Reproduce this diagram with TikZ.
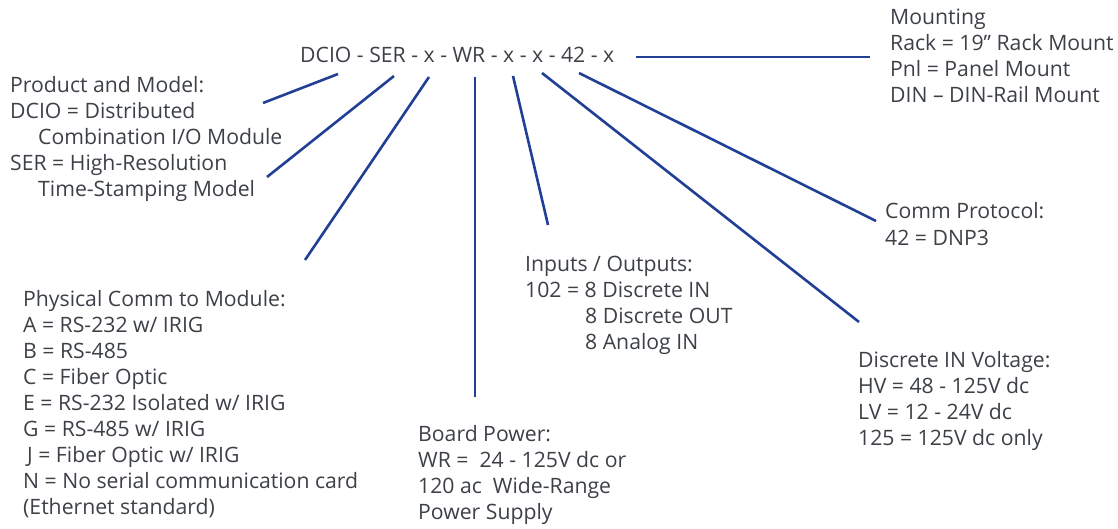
\documentclass[tikz,border=0pt]{standalone}
\usepackage{fontspec}
\setmainfont{Open Sans}
\definecolor{txt}{HTML}{3C4047}
\definecolor{ln}{HTML}{223F96}
\begin{document}
\begin{tikzpicture}[x=1pt,y=-1pt,
  lbl/.style={anchor=base west,inner sep=0pt,align=left,text=txt,font=\fontsize{21.2}{26}\selectfont},
  conn/.style={draw=ln,line width=2.6pt}]
\useasboundingbox (0,0) rectangle (1118,529);
% base anchor = baseline of the last line
\node[lbl] (code) at (300,63) {DCIO - SER - x - WR - x - x - 42 - x};
\node[lbl] (prod) at (10,197) {Product and Model:\\DCIO = Distributed\\\hspace*{28pt}Combination I/O Module\\SER = High-Resolution\\\hspace*{28pt}Time-Stamping Model};
\node[lbl] (phys) at (23,514) {Physical Comm to Module:\\A = RS-232 w/ IRIG\\B = RS-485\\C = Fiber Optic\\E = RS-232 Isolated w/ IRIG\\G = RS-485 w/ IRIG\\\hspace*{4pt}J = Fiber Optic w/ IRIG\\N = No serial communication card\\(Ethernet standard)};
\node[lbl] (io) at (525,349) {Inputs / Outputs:\\102 = 8 Discrete IN\\\hspace*{60pt}8 Discrete OUT\\\hspace*{60pt}8 Analog IN};
\node[lbl] (pwr) at (418,519) {Board Power:\\WR = \ 24 - 125V dc or\\120 ac \ Wide-Range\\Power Supply};
\node[lbl] (mnt) at (890,103) {Mounting\\Rack = 19” Rack Mount\\Pnl = Panel Mount\\DIN – DIN-Rail Mount};
\node[lbl] (prot) at (885,245) {Comm Protocol:\\42 = DNP3};
\node[lbl] (volt) at (858,445) {Discrete IN Voltage:\\HV = 48 - 125V dc\\LV = 12 - 24V dc\\125 = 125V dc only};
\coordinate (s1) at (338,74); \coordinate (e1) at (263,103);
\coordinate (s2) at (394,76); \coordinate (e2) at (267,177);
\coordinate (s3) at (429,77); \coordinate (e3) at (305,260);
\coordinate (s4) at (475,77); \coordinate (e4) at (475,397);
\coordinate (s5) at (513,76); \coordinate (e5) at (548,225);
\coordinate (s6) at (542,73); \coordinate (e6) at (859,322);
\coordinate (s7) at (579,73); \coordinate (e7) at (876,221);
\coordinate (s8) at (636,57); \coordinate (e8) at (870,57);
\foreach \i in {1,...,8} \draw[conn] (s\i) -- (e\i);
\end{tikzpicture}
\end{document}
